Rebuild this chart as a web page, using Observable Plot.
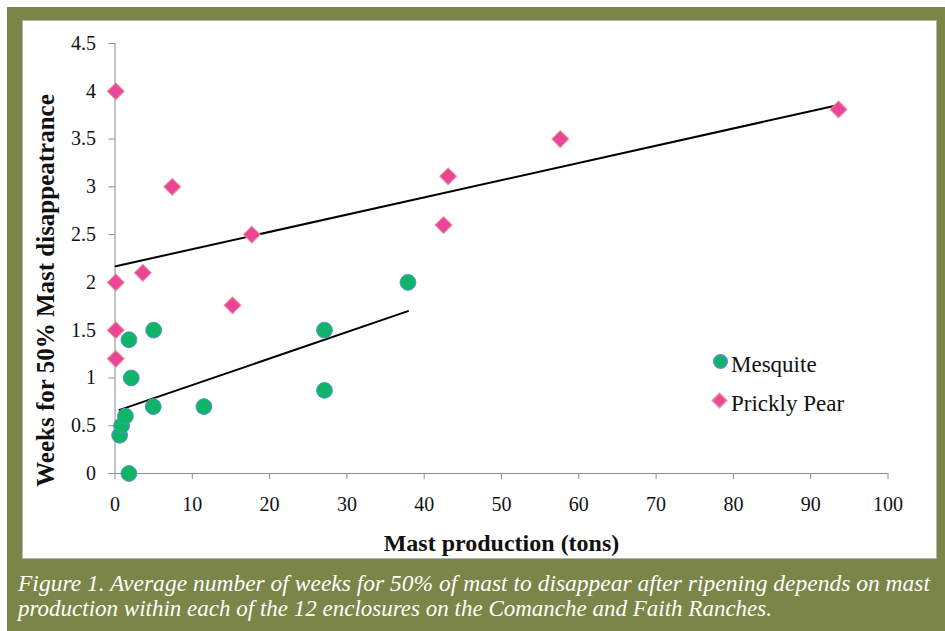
<!DOCTYPE html>
<html><head><meta charset="utf-8">
<script src="https://cdn.jsdelivr.net/npm/d3@7"></script>
<script src="https://cdn.jsdelivr.net/npm/@observablehq/plot@0.6"></script>
<style>
html,body{margin:0;padding:0;background:#fff;width:945px;height:631px;overflow:hidden;}
#frame{position:absolute;left:7px;top:7px;width:938px;height:624px;background:#7c8548;}
#panel{position:absolute;left:15px;top:13px;width:913px;height:537px;background:#fff;border:1px solid #b4b4b4;}
#chart{position:absolute;left:15px;top:13px;}
#chart text{font-family:'Liberation Serif','Times New Roman',serif !important;}
#caption{position:absolute;left:0;top:552px;}
</style></head><body>
<div id="frame"><div id="panel"></div><div id="chart"></div>
<svg id="caption" width="938" height="72"></svg></div>
<script>
// Mesquite (x = mast production in tons, y = weeks for 50% disappearance)
const mesquiteX = [1.8, 0.6, 0.85, 1.35, 2.1, 1.8, 5.0, 4.95, 11.5, 27.1, 27.1, 37.9];
const mesquiteY = [0, 0.4, 0.5, 0.6, 1.0, 1.4, 1.5, 0.7, 0.7, 1.5, 0.87, 2.0];
// Prickly Pear
const pearX = [0.1, 0.1, 0.1, 0.1, 7.4, 3.6, 17.7, 15.2, 43.1, 42.5, 57.6, 93.6];
const pearY = [4.0, 2.0, 1.5, 1.2, 3.0, 2.1, 2.5, 1.76, 3.11, 2.6, 3.5, 3.81];
const xTicks = [0, 10, 20, 30, 40, 50, 60, 70, 80, 90, 100];
const yTicks = [0, 0.5, 1, 1.5, 2, 2.5, 3, 3.5, 4, 4.5];
const seriesNames = ["Mesquite", "Prickly Pear"];
const xTitle = "Mast production (tons)";
const yTitle = "Weeks for 50% Mast disappeatrance";
const captionLines = [
  "Figure 1. Average number of weeks for 50% of mast to disappear after ripening depends on mast",
  "production within each of the 12 enclosures on the Comanche and Faith Ranches."
];

const mesquite = mesquiteX.map((x, i) => ({x, y: mesquiteY[i]}));
const pear = pearX.map((x, i) => ({x, y: pearY[i]}));

const green = "#0fb567", greenStroke = "#5a8fcf";
const pink = "#ea4599", pinkStroke = "#e79090";

const chart = Plot.plot({
  width: 915, height: 539,
  marginLeft: 92.5, marginRight: 49.5, marginTop: 23, marginBottom: 86,
  style: {fontFamily: "'Liberation Serif','Times New Roman',serif", fontSize: "20px", background: "transparent", color: "#111", overflow: "visible"},
  x: {domain: [0, 100], ticks: xTicks, tickSize: 6, tickPadding: 17, tickFormat: d => String(d), label: null},
  y: {domain: [0, 4.5], ticks: yTicks, tickSize: 6, tickPadding: 13, tickFormat: d => String(d), label: null},
  marks: [
    Plot.ruleX([0], {stroke: "#8a8a8a", strokeWidth: 1}),
    Plot.ruleY([0], {stroke: "#8a8a8a", strokeWidth: 1}),
    Plot.linearRegressionY(mesquite, {x: "x", y: "y", ci: 0, stroke: "#000", strokeWidth: 2}),
    Plot.linearRegressionY(pear, {x: "x", y: "y", ci: 0, stroke: "#000", strokeWidth: 2}),
    Plot.dot(pear, {x: "x", y: "y", symbol: "square", rotate: 45, r: 6.7, fill: pink, stroke: pinkStroke, strokeWidth: 1}),
    Plot.dot(mesquite, {x: "x", y: "y", r: 7.9, fill: green, stroke: greenStroke, strokeWidth: 1}),
    // legend
    Plot.dot([seriesNames[0]], {frameAnchor: "top-left", dx: 605.5, dy: 318, r: 6.8, fill: green, stroke: greenStroke}),
    Plot.dot([seriesNames[1]], {frameAnchor: "top-left", dx: 604.5, dy: 357, symbol: "square", rotate: 45, r: 5.8, fill: pink, stroke: pinkStroke}),
    Plot.text([seriesNames[0]], {frameAnchor: "top-left", dx: 616, dy: 321, text: d => d, textAnchor: "start", lineAnchor: "middle", fontSize: 23, fill: "#111"}),
    Plot.text([seriesNames[1]], {frameAnchor: "top-left", dx: 616, dy: 360, text: d => d, textAnchor: "start", lineAnchor: "middle", fontSize: 23, fill: "#111"}),
    // axis titles
    Plot.text([xTitle], {frameAnchor: "bottom", dy: 70, text: d => d, textAnchor: "middle", lineAnchor: "middle", fontSize: 24, fontWeight: "bold", fill: "#111"}),
    Plot.text([yTitle], {frameAnchor: "left", dx: -69.5, dy: 32, rotate: -90, text: d => d, textAnchor: "middle", lineAnchor: "middle", fontSize: 25, fontWeight: "bold", fill: "#111"})
  ]
});
document.getElementById("chart").appendChild(chart);
d3.select(chart).selectAll('[aria-label^="x-axis"] line, [aria-label^="x-axis"] path, [aria-label^="y-axis"] line, [aria-label^="y-axis"] path')
  .attr("stroke", "#8a8a8a");

const cap = d3.select("#caption");
const capLens = [912, 754];
cap.selectAll("text").data(captionLines).join("text")
  .attr("x", 11)
  .attr("y", (d, i) => 32 + i * 25)
  .attr("textLength", (d, i) => capLens[i])
  .attr("lengthAdjust", "spacingAndGlyphs")
  .attr("fill", "#fff")
  .attr("font-family", "'Liberation Serif','Times New Roman',serif")
  .attr("font-style", "italic")
  .attr("font-size", 23)
  .text(d => d);
</script>
</body></html>
